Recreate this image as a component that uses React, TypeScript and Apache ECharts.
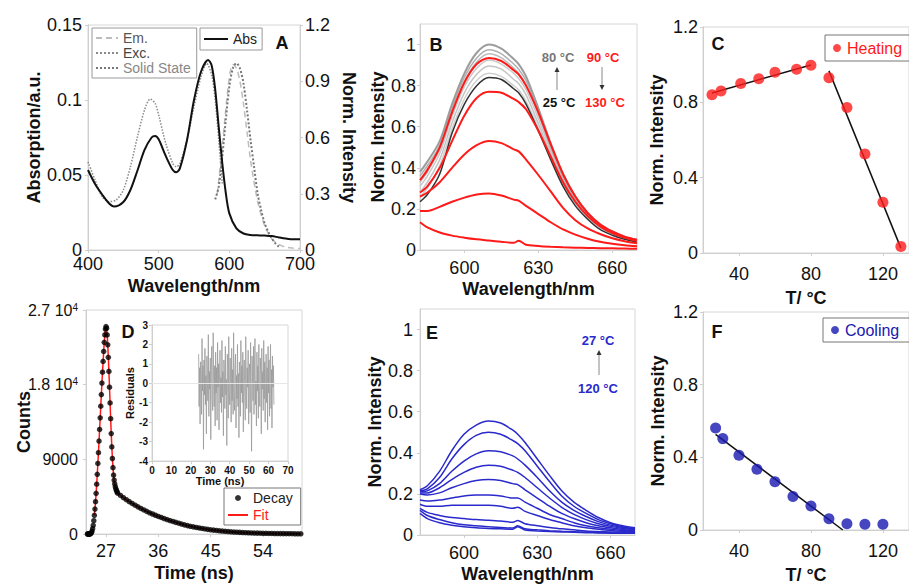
import React, { useEffect, useRef } from 'react';
import * as echarts from 'echarts';

const FONT = '"Liberation Sans", Arial, Helvetica, sans-serif';

// ---------- Panel A ----------
const absNm = [400, 410, 420, 430, 437, 450, 460, 470, 480, 490, 495, 500, 510, 520, 525, 530, 540, 550, 560, 570, 575, 580, 585, 590, 595, 600, 610, 620, 630, 640, 650, 660, 670, 680, 690, 700];
const absVal = [0.0533, 0.044, 0.037, 0.031, 0.029, 0.032, 0.04, 0.053, 0.0667, 0.075, 0.076, 0.0738, 0.0627, 0.0533, 0.0518, 0.0544, 0.073, 0.1, 0.119, 0.1267, 0.123, 0.107, 0.082, 0.058, 0.038, 0.0244, 0.0144, 0.011, 0.01, 0.0098, 0.0096, 0.0093, 0.0084, 0.0076, 0.0071, 0.0071];
const excNm = [400, 410, 420, 430, 440, 450, 460, 470, 480, 488, 495, 500, 510, 520, 525, 530, 540, 550, 560, 568, 575, 580, 585, 590];
const excVal = [0.47, 0.373, 0.284, 0.258, 0.267, 0.32, 0.444, 0.604, 0.747, 0.805, 0.782, 0.72, 0.569, 0.462, 0.444, 0.462, 0.587, 0.764, 0.924, 0.995, 0.933, 0.8, 0.587, 0.355];
const ssNm = [580, 585, 590, 595, 600, 605, 610, 615, 620, 625, 630, 635, 640, 645, 650, 655, 660, 665, 670];
const ssVal = [0.27, 0.338, 0.498, 0.693, 0.871, 0.969, 0.996, 0.969, 0.889, 0.747, 0.587, 0.444, 0.302, 0.213, 0.142, 0.098, 0.062, 0.036, 0.018];
const emNm = [583, 590, 595, 600, 605, 610, 615, 620, 625, 630, 640, 650, 660, 670, 680, 690, 700];
const emVal = [0.3, 0.55, 0.75, 0.92, 0.99, 0.97, 0.9, 0.78, 0.63, 0.48, 0.26, 0.13, 0.06, 0.03, 0.015, 0.01, 0.008];

// ---------- Panels B and E (spectra) ----------
const specNm = [582, 585, 590, 595, 600, 605, 610, 615, 620, 622, 625, 630, 635, 640, 645, 650, 655, 660, 665, 670];
const b25 = [0.235, 0.27, 0.37, 0.57, 0.71, 0.8, 0.84, 0.83, 0.785, 0.765, 0.71, 0.58, 0.44, 0.31, 0.215, 0.15, 0.1, 0.072, 0.052, 0.038];
const b30 = [0.26, 0.3, 0.41, 0.59, 0.735, 0.825, 0.86, 0.845, 0.8, 0.78, 0.725, 0.595, 0.45, 0.32, 0.225, 0.155, 0.108, 0.077, 0.056, 0.042];
const b40 = [0.28, 0.33, 0.44, 0.62, 0.765, 0.855, 0.895, 0.88, 0.83, 0.81, 0.755, 0.615, 0.465, 0.33, 0.23, 0.16, 0.112, 0.08, 0.058, 0.044];
const b50 = [0.31, 0.36, 0.47, 0.65, 0.795, 0.885, 0.925, 0.905, 0.86, 0.835, 0.78, 0.64, 0.48, 0.34, 0.238, 0.165, 0.115, 0.083, 0.06, 0.046];
const b60 = [0.33, 0.38, 0.49, 0.67, 0.82, 0.915, 0.955, 0.935, 0.885, 0.86, 0.805, 0.66, 0.495, 0.35, 0.245, 0.17, 0.118, 0.085, 0.062, 0.047];
const b70 = [0.36, 0.41, 0.51, 0.69, 0.84, 0.935, 0.975, 0.955, 0.905, 0.88, 0.825, 0.675, 0.505, 0.36, 0.25, 0.175, 0.12, 0.087, 0.063, 0.048];
const b80 = [0.38, 0.43, 0.53, 0.71, 0.86, 0.96, 1.0, 0.98, 0.93, 0.905, 0.845, 0.69, 0.52, 0.37, 0.26, 0.18, 0.125, 0.09, 0.065, 0.05];
const b90 = [0.34, 0.39, 0.5, 0.67, 0.815, 0.905, 0.935, 0.92, 0.875, 0.855, 0.8, 0.67, 0.515, 0.37, 0.26, 0.18, 0.125, 0.09, 0.065, 0.05];
const b100 = [0.28, 0.31, 0.4, 0.53, 0.655, 0.74, 0.77, 0.765, 0.735, 0.72, 0.685, 0.58, 0.455, 0.33, 0.235, 0.165, 0.115, 0.082, 0.06, 0.045];
const b110 = [0.26, 0.28, 0.33, 0.4, 0.465, 0.51, 0.53, 0.52, 0.49, 0.48, 0.44, 0.365, 0.285, 0.205, 0.145, 0.105, 0.078, 0.057, 0.043, 0.033];
const b120 = [0.19, 0.19, 0.21, 0.235, 0.255, 0.27, 0.275, 0.265, 0.245, 0.24, 0.215, 0.175, 0.135, 0.1, 0.075, 0.055, 0.04, 0.03, 0.023, 0.018];
const b130 = [0.135, 0.11, 0.085, 0.07, 0.06, 0.052, 0.046, 0.04, 0.035, 0.045, 0.026, 0.02, 0.016, 0.013, 0.011, 0.01, 0.009, 0.008, 0.007, 0.006];

const e1 = [0.22, 0.24, 0.31, 0.41, 0.49, 0.535, 0.555, 0.545, 0.51, 0.49, 0.45, 0.37, 0.29, 0.215, 0.16, 0.12, 0.085, 0.06, 0.045, 0.035];
const e2 = [0.215, 0.225, 0.28, 0.37, 0.44, 0.485, 0.5, 0.49, 0.46, 0.445, 0.41, 0.335, 0.26, 0.19, 0.14, 0.105, 0.075, 0.055, 0.04, 0.03];
const e3 = [0.21, 0.215, 0.25, 0.31, 0.36, 0.395, 0.41, 0.405, 0.385, 0.37, 0.34, 0.28, 0.215, 0.16, 0.12, 0.09, 0.065, 0.048, 0.036, 0.028];
const e4 = [0.205, 0.205, 0.23, 0.27, 0.305, 0.33, 0.34, 0.335, 0.315, 0.305, 0.28, 0.23, 0.18, 0.135, 0.1, 0.075, 0.055, 0.042, 0.032, 0.025];
const e5 = [0.2, 0.195, 0.205, 0.23, 0.25, 0.265, 0.27, 0.265, 0.25, 0.245, 0.22, 0.18, 0.14, 0.105, 0.08, 0.06, 0.045, 0.035, 0.027, 0.022];
const e6 = [0.17, 0.165, 0.17, 0.18, 0.19, 0.195, 0.195, 0.19, 0.18, 0.18, 0.16, 0.13, 0.1, 0.08, 0.06, 0.045, 0.035, 0.028, 0.022, 0.018];
const e7 = [0.15, 0.14, 0.14, 0.145, 0.145, 0.145, 0.145, 0.14, 0.13, 0.135, 0.115, 0.095, 0.075, 0.06, 0.045, 0.035, 0.028, 0.022, 0.018, 0.015];
const e8 = [0.13, 0.11, 0.095, 0.085, 0.08, 0.075, 0.072, 0.068, 0.062, 0.07, 0.055, 0.045, 0.037, 0.03, 0.025, 0.02, 0.017, 0.015, 0.013, 0.012];
const e9 = [0.12, 0.095, 0.075, 0.06, 0.05, 0.045, 0.04, 0.037, 0.034, 0.045, 0.03, 0.025, 0.021, 0.018, 0.016, 0.014, 0.012, 0.011, 0.01, 0.01];
const e10 = [0.105, 0.08, 0.06, 0.048, 0.04, 0.035, 0.032, 0.03, 0.028, 0.04, 0.024, 0.02, 0.017, 0.015, 0.013, 0.011, 0.01, 0.009, 0.008, 0.008];

// ---------- Panels C and F ----------
const heatT = [25, 30, 41, 51, 60, 72, 80, 90, 100, 110, 120, 130];
const heatI = [0.84, 0.86, 0.9, 0.925, 0.96, 0.976, 0.997, 0.93, 0.773, 0.526, 0.27, 0.035];
const heatFitLow = [[25, 0.85], [80, 0.998]];
const heatFitHigh = [[90, 0.967], [130, 0.026]];
const coolT = [27, 31, 40, 50, 60, 70, 80, 90, 100, 110, 120];
const coolI = [0.561, 0.503, 0.411, 0.335, 0.265, 0.185, 0.132, 0.062, 0.035, 0.032, 0.032];
const coolFit = [[27, 0.526], [97.7, 0]];

// ---------- Panel D ----------
const decayStartA = 23.8;
const decayStepA = 0.1;
const decayCountsA = [0, 0, 0, 0, 0, 30, 80, 180, 350, 650, 1050, 1600, 2250, 3000, 3900, 4900, 6000, 7200, 8500, 9800, 11200, 12600, 14000, 15400, 16800, 18200, 19500, 20800, 22000, 23100, 24000, 24700, 25000, 24800, 24000, 22800, 21300, 19600, 17700, 15800, 13900, 12100, 10500, 9100, 8000, 7100, 6500, 6050, 5700, 5450, 5250, 5080, 4920];
const decayStartB = 29.5;
const decayStepB = 0.5;
const decayCountsB = [4650, 4380, 4130, 3900, 3680, 3470, 3270, 3080, 2900, 2730, 2560, 2410, 2260, 2120, 1990, 1860, 1740, 1620, 1510, 1400, 1300, 1200, 1100, 1010, 930, 860, 790, 730, 670, 610, 560, 510, 470, 430, 390, 355, 320, 290, 265, 240, 215, 195, 175, 160, 145, 130, 118, 106, 96, 87, 79, 71, 64, 58, 52, 47, 43, 39, 35, 32, 29, 26, 24];
const residStart = 24;
const residStep = 0.25;
const residuals = [
  1.5, -1.2, 0.8, -2.1, 1.1, 0.3, -1.6, 2.3, -0.4, 0.9, -3.4, 1.2,
  -0.6, 1.8, -1.1, 0.4, -2.6, 1.4, 0.2, -0.9, 2.5, -1.7, 0.6, -0.3,
  1.3, -2.9, 0.7, 1.9, -0.8, -1.4, 2.6, 0.1, -1.2, 0.9, -2.2, 1.6,
  -0.5, 0.8, -1.9, 2.1, -0.2, 1.0, -2.4, 0.5, 1.7, -1.0, 0.3, -1.5,
  2.2, -0.7, 0.6, -2.7, 1.2, 0.4, -1.3, 1.9, -0.6, 0.2, -3.2, 1.5,
  0.9, -1.8, 2.4, -0.4, -1.1, 1.3, 0.0, -2.0, 1.8, -0.9, 0.7, -1.6,
  2.6, -0.3, -1.4, 0.8, 1.5, -2.3, 0.4, -0.8, 2.0, -1.2, 0.5, -2.8,
  1.1, 0.3, -1.7, 2.2, -0.5, 0.9, -1.0, 1.6, -2.5, 0.6, 1.2, -0.7,
  -1.9, 2.4, 0.2, -1.3, 0.8, -0.2, 1.7, -2.1, 0.5, 1.0, -1.5, 2.1,
  -0.6, -3.5, 1.4, 0.3, -0.9, 1.9, -1.6, 0.7, 2.3, -1.1, 0.1, -2.2,
  1.6, -0.4, 0.9, -1.8, 2.0, -0.7, -1.2, 1.3, 0.4, -2.6, 1.8, -0.3,
  0.6, -1.4, 2.2, -0.8, 1.1, -2.0, 0.3, 1.5, -1.0, 0.8, -2.4, 1.9,
  -0.5, 1.2, -1.7, 0.4, 2.0, -1.3, 0.7, -2.3, 1.4, -0.2, 0.9, -1.1,
];

const specTicks = [600, 630, 660];
const tTicks = [40, 80, 120];
const decayTicks = [27, 36, 45, 54];
const normTicks = [0, 0.2, 0.4, 0.6, 0.8, 1];

function pairs(xs: number[], ys: number[]) {
  return xs.map((x, i) => [x, ys[i]]);
}
function sampled(start: number, step: number, ys: number[]) {
  return ys.map((y, i) => [Math.round((start + i * step) * 100) / 100, y]);
}

const AXC = '#cfcfcf';
const nameStyle = { color: '#111', fontSize: 18, fontWeight: 'bold', fontFamily: FONT };

function axis(extra: any) {
  const { label = {}, tick = {}, nameStyleX = {}, ...rest } = extra;
  return {
    type: 'value',
    axisLine: { show: true, onZero: false, lineStyle: { color: AXC, width: 1 } },
    axisTick: { show: true, length: 3, lineStyle: { color: AXC }, ...tick },
    splitLine: { show: false },
    axisLabel: { color: '#111', fontSize: 18, fontFamily: FONT, ...label },
    nameLocation: 'middle',
    nameTextStyle: { ...nameStyle, ...nameStyleX },
    ...rest,
  };
}

function grid(left: number, top: number, width: number, height: number) {
  return { left, top, width, height, show: true, borderColor: '#d6d6d6', borderWidth: 1, containLabel: false };
}

function specLine(name: string, xi: number, yi: number, ys: number[], color: string, width: number) {
  return {
    type: 'line', name, xAxisIndex: xi, yAxisIndex: yi, data: pairs(specNm, ys),
    symbol: 'none', smooth: 0.3, lineStyle: { color, width }, itemStyle: { color }, z: 3,
  };
}

function label(text: string, x: number, y: number, opts: any = {}) {
  return {
    type: 'text', x, y, z: 20,
    style: { text, fill: opts.fill || '#111', font: opts.font || `bold 18px ${FONT}`, align: opts.align || 'center', verticalAlign: 'middle' },
  };
}
function arrow(x: number, y1: number, y2: number, color: string) {
  const dir = y2 < y1 ? 1 : -1;
  return [
    { type: 'line', z: 20, shape: { x1: x, y1, x2: x, y2: y2 + dir * 3 }, style: { stroke: '#888', lineWidth: 1 } },
    { type: 'polygon', z: 20, shape: { points: [[x - 2.5, y2 + dir * 5], [x + 2.5, y2 + dir * 5], [x, y2]] }, style: { fill: color } },
  ];
}

const RED = '#ff1a1a';
const BLUE = '#2a2acc';
const NAVY = '#1818b0';
const NOSYM = { opacity: 0 };

const option: any = {
  animation: false,
  backgroundColor: '#fff',
  textStyle: { fontFamily: FONT },
  grid: [
    grid(88, 25, 212, 225),   // A
    grid(420, 24, 217, 226),  // B
    grid(703, 27, 207, 226),  // C
    grid(86, 310, 216, 224),  // D
    grid(152, 325, 136, 136), // D inset
    grid(420, 309, 215, 226), // E
    grid(703, 312, 207, 226), // F
  ],
  xAxis: [
    axis({ gridIndex: 0, min: 400, max: 700, interval: 100, name: 'Wavelength/nm', nameGap: 27, label: { margin: 7, lineHeight: 14 } }),
    axis({ gridIndex: 1, min: 582, max: 670, name: 'Wavelength/nm', nameGap: 30, label: { margin: 9, customValues: specTicks }, tick: { customValues: specTicks } }),
    axis({ gridIndex: 2, min: 20, max: 134.5, name: 'T/ °C', nameGap: 36, label: { margin: 12, customValues: tTicks }, tick: { customValues: tTicks } }),
    axis({ gridIndex: 3, min: 23.56, max: 60.7, name: 'Time (ns)', nameGap: 30, label: { margin: 8, customValues: decayTicks }, tick: { customValues: decayTicks } }),
    axis({ gridIndex: 4, min: 0, max: 70, interval: 10, name: 'Time (ns)', nameGap: 14, label: { margin: 4, fontSize: 10, fontWeight: 'bold' }, nameStyleX: { fontSize: 11 } }),
    axis({ gridIndex: 5, min: 582, max: 670, name: 'Wavelength/nm', nameGap: 30, label: { margin: 9, customValues: specTicks }, tick: { customValues: specTicks } }),
    axis({ gridIndex: 6, min: 20, max: 134.5, name: 'T/ °C', nameGap: 36, label: { margin: 12, customValues: tTicks }, tick: { customValues: tTicks } }),
  ],
  yAxis: [
    axis({ gridIndex: 0, min: 0, max: 0.15, interval: 0.05, name: 'Absorption/a.u.', nameGap: 41, label: { margin: 6, lineHeight: 14 } }),
    axis({ gridIndex: 0, position: 'right', min: 0, max: 1.2, interval: 0.3, name: 'Norm. Intensity', nameGap: 40, nameRotate: -90, label: { margin: 5, lineHeight: 14 } }),
    axis({ gridIndex: 1, min: 0, max: 1.1, name: 'Norm. Intensity', nameGap: 28, label: { margin: 4, customValues: normTicks }, tick: { customValues: normTicks } }),
    axis({ gridIndex: 2, min: 0, max: 1.2, interval: 0.4, name: 'Norm. Intensity', nameGap: 37, label: { margin: 5 } }),
    axis({
      gridIndex: 3, min: 0, max: 27000, interval: 9000, name: 'Counts', nameGap: 53, nameMoveOverlap: false,
      label: {
        margin: 8, fontSize: 16,
        formatter: (v: number) => (v === 18000 ? '1.8 10{sup|4}' : v === 27000 ? '2.7 10{sup|4}' : String(v)),
        rich: { sup: { fontSize: 10, lineHeight: 11, verticalAlign: 'top', color: '#111', fontFamily: FONT } },
      },
    }),
    axis({ gridIndex: 4, min: -4, max: 3, interval: 1, name: 'Residuals', nameGap: 16, label: { margin: 4, fontSize: 10, fontWeight: 'bold' }, nameStyleX: { fontSize: 11 } }),
    axis({ gridIndex: 5, min: 0, max: 1.1, name: 'Norm. Intensity', nameGap: 33, label: { margin: 7, customValues: normTicks }, tick: { customValues: normTicks } }),
    axis({ gridIndex: 6, min: 0, max: 1.2, interval: 0.4, name: 'Norm. Intensity', nameGap: 36, label: { margin: 5 } }),
  ],
  legend: [
    {
      left: 92, top: 28, orient: 'vertical', selectedMode: false,
      itemWidth: 22, itemHeight: 10, itemGap: 1, padding: [3, 6, 3, 3],
      borderColor: '#999', borderWidth: 1,
      textStyle: { fontSize: 14, fontFamily: FONT, color: '#555' },
      data: [
        { name: 'Em.', itemStyle: NOSYM, textStyle: { color: '#555' } },
        { name: 'Exc.', itemStyle: NOSYM, textStyle: { color: '#444' } },
        { name: 'Solid State', itemStyle: NOSYM, textStyle: { color: '#888' } },
      ],
    },
    {
      left: 200, top: 28, selectedMode: false,
      itemWidth: 24, itemHeight: 10, padding: [4, 5, 4, 3],
      borderColor: '#999', borderWidth: 1,
      textStyle: { fontSize: 14, fontFamily: FONT, color: '#222' },
      data: [{ name: 'Abs', itemStyle: NOSYM }],
    },
    {
      left: 825, top: 35, selectedMode: false,
      itemWidth: 10, itemHeight: 8, padding: [5, 40, 5, 8],
      borderColor: '#777', borderWidth: 1,
      textStyle: { fontSize: 16, fontFamily: FONT },
      data: [{ name: 'Heating', icon: 'circle', textStyle: { color: RED } }],
    },
    {
      left: 823, top: 318, selectedMode: false,
      itemWidth: 10, itemHeight: 8, padding: [4, 40, 4, 8],
      borderColor: '#777', borderWidth: 1,
      textStyle: { fontSize: 16, fontFamily: FONT },
      data: [{ name: 'Cooling', icon: 'circle', textStyle: { color: NAVY } }],
    },
    {
      left: 224, top: 488, orient: 'vertical', selectedMode: false,
      itemWidth: 20, itemHeight: 6, itemGap: 3, padding: [3, 8, 3, 3],
      borderColor: '#777', borderWidth: 1,
      textStyle: { fontSize: 14, fontFamily: FONT, color: '#222' },
      data: [{ name: 'Decay', icon: 'circle' }, { name: 'Fit', itemStyle: NOSYM, textStyle: { color: RED } }],
    },
  ],
  series: [
    // A
    { type: 'line', name: 'Em.', xAxisIndex: 0, yAxisIndex: 1, data: pairs(emNm, emVal), symbol: 'none', smooth: 0.3, lineStyle: { color: '#bdbdbd', width: 1.5, type: [6, 4] }, itemStyle: { color: '#bdbdbd' } },
    { type: 'line', name: 'Exc.', xAxisIndex: 0, yAxisIndex: 1, data: pairs(excNm, excVal), symbol: 'none', smooth: 0.3, lineStyle: { color: '#8a8a8a', width: 1.5, type: 'dotted' }, itemStyle: { color: '#8a8a8a' } },
    { type: 'line', name: 'Solid State', xAxisIndex: 0, yAxisIndex: 1, data: pairs(ssNm, ssVal), symbol: 'none', smooth: 0.3, lineStyle: { color: '#777', width: 2, type: [2, 2] }, itemStyle: { color: '#777' } },
    { type: 'line', name: 'Abs', xAxisIndex: 0, yAxisIndex: 0, data: pairs(absNm, absVal), symbol: 'none', smooth: 0.3, lineStyle: { color: '#111', width: 2 }, itemStyle: { color: '#111' }, z: 4 },
    // B
    specLine('B30', 1, 2, b30, '#d0d0d0', 1.5),
    specLine('B40', 1, 2, b40, '#c4c4c4', 1.5),
    specLine('B50', 1, 2, b50, '#cacaca', 1.5),
    specLine('B60', 1, 2, b60, '#bcbcbc', 1.5),
    specLine('B70', 1, 2, b70, '#b0b0b0', 1.5),
    specLine('B80', 1, 2, b80, '#9c9c9c', 2),
    specLine('B25', 1, 2, b25, '#333333', 1.5),
    specLine('B90', 1, 2, b90, RED, 2),
    specLine('B100', 1, 2, b100, RED, 2),
    specLine('B110', 1, 2, b110, RED, 2),
    specLine('B120', 1, 2, b120, RED, 2),
    specLine('B130', 1, 2, b130, RED, 2),
    // C
    { type: 'line', name: 'HeatFitLow', xAxisIndex: 2, yAxisIndex: 3, data: heatFitLow, symbol: 'none', lineStyle: { color: '#111', width: 1.5 }, z: 2 },
    { type: 'line', name: 'HeatFitHigh', xAxisIndex: 2, yAxisIndex: 3, data: heatFitHigh, symbol: 'none', lineStyle: { color: '#111', width: 1.5 }, z: 2 },
    { type: 'scatter', name: 'Heating', xAxisIndex: 2, yAxisIndex: 3, data: pairs(heatT, heatI), symbolSize: 11, itemStyle: { color: RED }, z: 3 },
    // D
    { type: 'line', name: 'Fit', xAxisIndex: 3, yAxisIndex: 4, data: [...sampled(decayStartA, decayStepA, decayCountsA).filter((p) => p[0] >= 25), ...sampled(decayStartB, decayStepB, decayCountsB)], symbol: 'none', lineStyle: { color: RED, width: 1.5 }, itemStyle: { color: RED }, z: 2 },
    { type: 'scatter', name: 'Decay', xAxisIndex: 3, yAxisIndex: 4, data: [...sampled(decayStartA, decayStepA, decayCountsA), ...sampled(decayStartB, decayStepB, decayCountsB)], symbolSize: 5.5, itemStyle: { color: '#000' }, z: 3 },
    {
      type: 'line', name: 'Residuals', xAxisIndex: 4, yAxisIndex: 5, data: sampled(residStart, residStep, residuals), symbol: 'none',
      lineStyle: { color: '#9a9a9a', width: 0.8 }, z: 3,
      markLine: { silent: true, symbol: 'none', label: { show: false }, lineStyle: { color: '#e6e6e6', width: 1, type: 'solid' }, data: [{ yAxis: 0 }] },
    },
    // E
    specLine('E1', 5, 6, e1, BLUE, 1.5),
    specLine('E2', 5, 6, e2, BLUE, 1.5),
    specLine('E3', 5, 6, e3, BLUE, 1.5),
    specLine('E4', 5, 6, e4, BLUE, 1.5),
    specLine('E5', 5, 6, e5, BLUE, 1.5),
    specLine('E6', 5, 6, e6, BLUE, 1.5),
    specLine('E7', 5, 6, e7, BLUE, 1.5),
    specLine('E8', 5, 6, e8, BLUE, 1.5),
    specLine('E9', 5, 6, e9, BLUE, 1.5),
    specLine('E10', 5, 6, e10, BLUE, 1.5),
    // F
    { type: 'line', name: 'CoolFit', xAxisIndex: 6, yAxisIndex: 7, data: coolFit, symbol: 'none', lineStyle: { color: '#111', width: 1.5 }, z: 2 },
    { type: 'scatter', name: 'Cooling', xAxisIndex: 6, yAxisIndex: 7, data: pairs(coolT, coolI), symbolSize: 11, itemStyle: { color: NAVY }, z: 3 },
  ],
  graphic: [
    label('A', 282, 43),
    label('B', 436, 45),
    label('C', 718, 44),
    label('D', 128, 332),
    label('E', 432, 333),
    label('F', 717, 332),
    label('80 °C', 558, 57, { fill: '#777', font: `bold 13px ${FONT}` }),
    label('90 °C', 603, 57, { fill: RED, font: `bold 13px ${FONT}` }),
    label('25 °C', 559, 102, { fill: '#111', font: `bold 13px ${FONT}` }),
    label('130 °C', 605, 102, { fill: RED, font: `bold 13px ${FONT}` }),
    ...arrow(557, 90, 67, '#333'),
    ...arrow(602, 67, 90, '#333'),
    label('27 °C', 598, 340, { fill: BLUE, font: `bold 13px ${FONT}` }),
    label('120 °C', 598, 388, { fill: BLUE, font: `bold 13px ${FONT}` }),
    ...arrow(599, 375, 350, '#333'),
  ],
};

export default function App() {
  const ref = useRef<HTMLDivElement>(null);
  useEffect(() => {
    if (!ref.current) return;
    const chart = echarts.init(ref.current, null, { renderer: 'svg' });
    chart.setOption(option);
    return () => chart.dispose();
  }, []);
  return (
    <div
      ref={ref}
      style={{ position: 'fixed', left: 0, top: 0, width: 909, height: 585, background: '#fff' }}
    />
  );
}
